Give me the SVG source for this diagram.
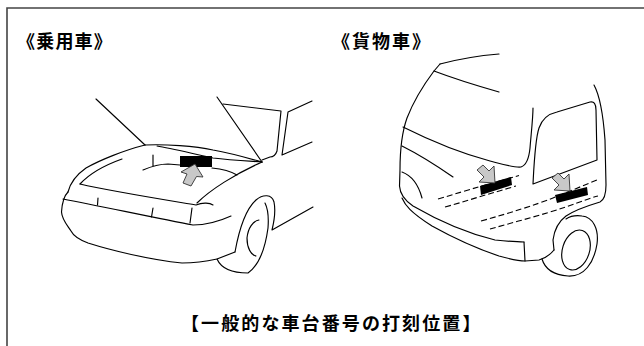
<svg xmlns="http://www.w3.org/2000/svg" width="644" height="346" viewBox="0 0 644 346">
<style>
.ln{fill:none;stroke:#000;stroke-width:1.15;stroke-linecap:round;stroke-linejoin:round}
.ds{fill:none;stroke:#000;stroke-width:1.1;stroke-dasharray:6 3}
.plate{fill:#000}
.arw{fill:#c8c8c8;stroke:#333;stroke-width:0.9;stroke-linejoin:round}
.lbl{font-family:"Noto Sans CJK JP","Noto Sans CJK SC",sans-serif;fill:#000;font-weight:bold}
</style>
<rect width="644" height="346" fill="#fff"/>
<g id="frame">
<path d="M7,346 L7,8 L644,8" fill="none" stroke="#444" stroke-width="1.6"/>
</g>
<g id="labels">
<text class="lbl" x="17" y="48" font-size="18" letter-spacing="1.2">《乗用車》</text>
<text class="lbl" x="332" y="48" font-size="18" letter-spacing="2">《貨物車》</text>
<text class="lbl" x="181" y="330" font-size="18" letter-spacing="2.1">【一般的な車台番号の打刻位置】</text>
</g>
<g id="car">
<g class="ln">
<path d="M96,99 L145,145"/>
<path d="M217,97 L262,162"/>
<path d="M223,104 L281,111 L277,151 Q275,157 270,157 L262,160"/>
<path d="M312,101 L288,112 L282,155 L312,142"/>
<path d="M145,145 C165,144 195,146 213,150 C230,153 248,158 262,162"/>
<path d="M157,146 C170,148 190,153 213,158 C230,160 248,161 262,162"/>
<path d="M145,145 C125,150 100,160 86,168 C76,175 70,184 68,192"/>
<path d="M122,159 C108,164 92,171 80,184"/>
<path d="M80,184 C110,191 160,199 196,205 C203,202 210,203 213,205"/>
<path d="M197,203 C210,190 235,174 262,162"/>
<path d="M153,155 L153,166 M143,170 C150,167 158,164 168,164 L180,165"/>
<path d="M212,168 C222,169 232,172 237,175"/>
<path d="M63,199 C100,206 160,219 193,225 C205,225 220,221 231,216"/>
<path d="M98,198 L97.5,205 M153,208 L151.5,217 M192,208 L190,223"/>
<path d="M68,192 C64,196 62,204 61.5,212 C62,220 68,226 71,231 C74,237 80,240 88,243 C110,250 150,260 182,263 C195,263 208,261 217,259 L235,252"/>
<path d="M235,252 C239,230 245,210 256,200 C263,194 272,194 274,202 C276,212 274,222 272,230 L313,207"/>
<path d="M217,259 C221,268 232,273 248,273 C258,266 265,250 268,228 C269,215 267,207 265,203"/>
<path d="M259,220 C253,221 248,228 247,238 C247,248 251,255 256,256"/>
</g>
<rect class="plate" x="180" y="156" width="32" height="11"/>
<polygon class="arw" points="195,164 181,172 187,174 183,183 191,186 196.5,176.5 203,177"/>
</g>
<g id="truck">
<g class="ln">
<path d="M440,64 C455,60 475,56 499,54"/>
<path d="M434,71 C455,79 478,86 499,92"/>
<path d="M440,64 L434,71 C425,83 414,100 407,118 C402,132 400,148 400,170 L399.5,186 C400,194 404,200 413,206 C432,217 462,232 495,240 C505,241 515,242 524,242"/>
<path d="M402,198 C405,205 410,212 432,226 C450,236 475,248 499,256 C510,259 518,261 525,261 L539,260 C546,258 550,255 554,250"/>
<path d="M524,242 L525,261"/>
<path d="M402,172 C410,175 418,183 422,198"/>
<path d="M403,127 C425,138 460,153 490,161 C505,165 515,168 521,167 C527,165 529,158 530,148 C531,135 533,118 533,108"/>
<path d="M402,146 C420,155 440,168 453,177"/>
<path d="M533,184 C534,165 535,140 539,128 C542,119 548,114 557,112 L590,102 C594,101 596,104 596,110 L597,160 Z"/>
<path d="M594,85 C600,96 603,112 605,140 L606,185 C606,195 604,200 600,202 C590,205 575,210 566,216 C558,222 554,232 553,240 L554,250"/>
<path d="M542,259 C545,269 553,275 568,276 C584,277 594,263 597,244 C599,229 593,217 582,216 C575,215 569,217 566,219"/>
<ellipse cx="576" cy="250" rx="13.5" ry="20.5" transform="rotate(18 576 250)"/>
</g>
<g class="ds">
<path d="M438,199 C455,194 468,190 480,186.5 L519,175.5"/>
<path d="M445,207 C460,203 472,199 482,196 L516,186"/>
<path d="M481,221 C510,213 535,205 553,198 L597,180"/>
<path d="M490,229 C515,222 545,214 566,207 C580,202 590,198 598,196"/>
</g>
<polygon class="plate" points="480,186 511,177 512,185 481,195"/>
<polygon class="plate" points="555,195 587,187 588,195 557,203"/>
<polygon class="arw" points="477,170 483,165 489,171 494,166 495,183 479,182 484,177"/>
<polygon class="arw" points="552,178 558,173 564,179 569,174 570,191 554,190 559,185"/>
</g>
</svg>
